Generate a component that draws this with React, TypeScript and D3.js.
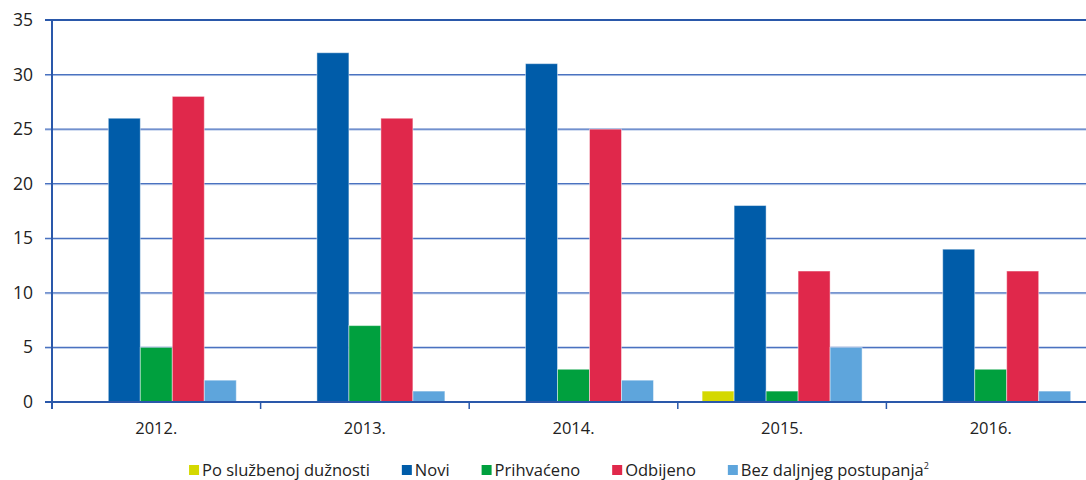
import React, { useEffect, useRef } from "react";
import * as d3 from "d3";

const categories = ["2012.", "2013.", "2014.", "2015.", "2016."];
const seriesNames = ["Po službenoj dužnosti", "Novi", "Prihvaćeno", "Odbijeno", "Bez daljnjeg postupanja"];
const poSluzbenoj = [0, 0, 0, 1, 0];
const novi = [26, 32, 31, 18, 14];
const prihvaceno = [5, 7, 3, 1, 3];
const odbijeno = [28, 26, 25, 12, 12];
const bezDaljnjeg = [2, 1, 2, 5, 1];
const yTicks = [0, 5, 10, 15, 20, 25, 30, 35];
const colors = ["#d4d800", "#005ca9", "#00a03e", "#e0284b", "#5ea5dc"];

const W = 1086;
const H = 480;

export default function App() {
  const ref = useRef<SVGSVGElement>(null);
  useEffect(() => {
    document.body.style.margin = "0";
    const svg = d3.select(ref.current);
    svg.selectAll("*").remove();
    const left = 52, right = 1095, top = 20, bottom = 402;
    const x = d3.scaleBand().domain(categories).range([left, right]);
    const y = d3.scaleLinear().domain([0, 35]).range([bottom, top]);
    const inner = d3.scaleBand().domain(seriesNames).range([0, x.bandwidth()]).paddingOuter(0.76).paddingInner(0);
    const allSeries = [poSluzbenoj, novi, prihvaceno, odbijeno, bezDaljnjeg];
    const font = "'Open Sans', 'Noto Sans', sans-serif";

    yTicks.forEach((t) => {
      if (t === 0 || t === 35) return;
      svg.append("line").attr("x1", left - 7).attr("x2", W).attr("y1", y(t) + 1).attr("y2", y(t) + 1)
        .attr("stroke", "#b9cbe9").attr("stroke-width", 1);
      svg.append("line").attr("x1", left - 7).attr("x2", W).attr("y1", y(t)).attr("y2", y(t))
        .attr("stroke", "#4a72c0").attr("stroke-width", 1.2);
    });
    svg.append("line").attr("x1", left - 7).attr("x2", W).attr("y1", y(35)).attr("y2", y(35))
      .attr("stroke", "#2a58aa").attr("stroke-width", 2);

    allSeries.forEach((vals, si) => {
      svg.append("g").selectAll("rect").data(vals).join("rect")
        .attr("x", (_, i) => (x(categories[i]) as number) + (inner(seriesNames[si]) as number))
        .attr("width", inner.bandwidth())
        .attr("y", (d) => y(d))
        .attr("height", (d) => bottom - y(d))
        .attr("fill", colors[si])
        .attr("stroke", "rgba(255,255,255,0.45)")
        .attr("stroke-width", 1);
    });

    svg.append("line").attr("x1", left - 7).attr("x2", W).attr("y1", bottom).attr("y2", bottom)
      .attr("stroke", "#2a58aa").attr("stroke-width", 2);
    categories.forEach((c, i) => {
      const bx = x(c) as number;
      if (i > 0) {
        svg.append("line").attr("x1", bx).attr("x2", bx).attr("y1", bottom).attr("y2", bottom + 7)
          .attr("stroke", "#2a58aa").attr("stroke-width", 1.5);
      }
      svg.append("text").attr("x", bx + x.bandwidth() / 2).attr("y", bottom + 32)
        .attr("text-anchor", "middle").attr("font-family", font).attr("font-size", 16.5)
        .attr("fill", "#222").text(c);
    });
    svg.append("line").attr("x1", left).attr("x2", left).attr("y1", top - 1).attr("y2", bottom + 7)
      .attr("stroke", "#2a58aa").attr("stroke-width", 2);
    yTicks.forEach((t) => {
      svg.append("text").attr("x", 33).attr("y", y(t) + 6).attr("text-anchor", "end")
        .attr("font-family", font).attr("font-size", 17.5).attr("fill", "#222").text(String(t));
    });

    const lg = svg.append("g");
    let cx = 0;
    const gap = 32;
    seriesNames.forEach((name, i) => {
      const g = lg.append("g").attr("transform", `translate(${cx},0)`);
      g.append("rect").attr("x", 0).attr("y", -11).attr("width", 10).attr("height", 10).attr("fill", colors[i]);
      const t = g.append("text").attr("x", 13).attr("y", 0).attr("font-family", font)
        .attr("font-size", 16.5).attr("fill", "#222").text(name);
      if (i === seriesNames.length - 1) {
        t.append("tspan").attr("font-size", 9).attr("dy", -7).text("2");
      }
      const w = (t.node() as SVGTextElement).getComputedTextLength();
      cx += 13 + w + gap;
    });
    const total = cx - gap;
    lg.attr("transform", `translate(${559 - total / 2},476)`);
  }, []);
  return <svg ref={ref} width={W} height={H} style={{ display: "block" }} />;
}
